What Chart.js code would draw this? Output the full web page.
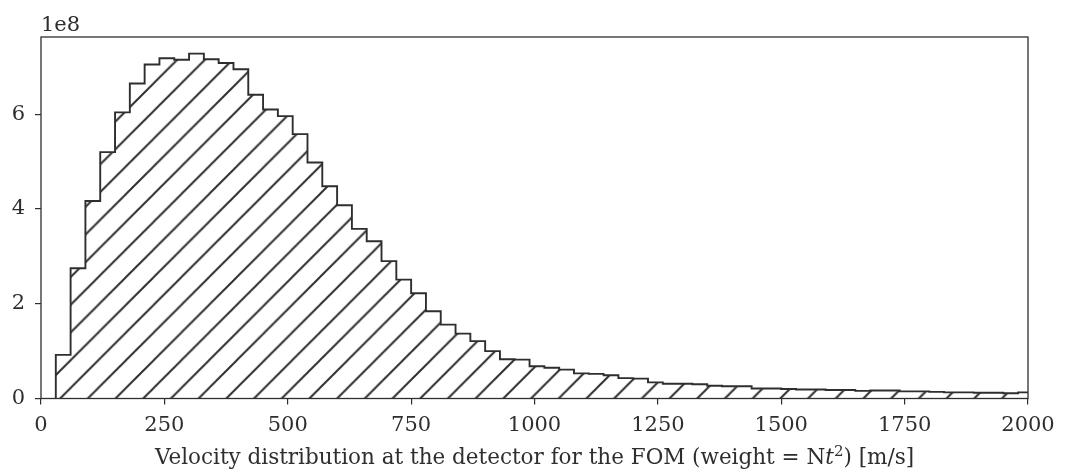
<!DOCTYPE html>
<html>
<head>
<meta charset="utf-8">
<script src="https://cdn.jsdelivr.net/npm/chart.js@4/dist/chart.umd.min.js"></script>
<style>
    html, body { margin: 0; padding: 0; background: #fff; }
    #wrap { width: 1067px; height: 474px; position: relative; }
</style>
</head>
<body>
<div id="wrap"><canvas id="hist"></canvas></div>
<script>
// bin edges in m/s (bins of 30 m/s)
const binEdges = [30, 60, 90, 120, 150, 180, 210, 240, 270, 300,
    330, 360, 390, 420, 450, 480, 510, 540, 570, 600,
    630, 660, 690, 720, 750, 780, 810, 840, 870, 900,
    930, 960, 990, 1020, 1050, 1080, 1110, 1140, 1170, 1200,
    1230, 1260, 1290, 1320, 1350, 1380, 1410, 1440, 1470, 1500,
    1530, 1560, 1590, 1620, 1650, 1680, 1710, 1740, 1770, 1800,
    1830, 1860, 1890, 1920, 1950, 1980, 2010];

// weighted counts per bin, in units of 1e8
const counts = [0.92, 2.75, 4.17, 5.20, 6.04, 6.65, 7.05, 7.18, 7.15, 7.28,
    7.16, 7.08, 6.95, 6.41, 6.10, 5.96, 5.58, 4.98, 4.48, 4.08,
    3.58, 3.32, 2.90, 2.51, 2.22, 1.84, 1.56, 1.37, 1.21, 1.00,
    0.83, 0.82, 0.68, 0.65, 0.61, 0.53, 0.52, 0.49, 0.43, 0.42,
    0.34, 0.31, 0.31, 0.30, 0.27, 0.26, 0.26, 0.21, 0.21, 0.20,
    0.19, 0.19, 0.18, 0.18, 0.16, 0.17, 0.17, 0.15, 0.15, 0.14,
    0.13, 0.13, 0.12, 0.12, 0.11, 0.13];

const xTicks = [0, 250, 500, 750, 1000, 1250, 1500, 1750, 2000];
const yTicks = [0, 2, 4, 6];
const yScaleFactor = 1e8;
const xLabelParts = [
    { text: 'Velocity distribution at the detector for the FOM (weight = N', style: '' },
    { text: 't', style: 'italic ' },
    { text: '2', style: '', sup: true },
    { text: ') [m/s]', style: '' }
];

const INK = '#2e2e2e';
const FONT = '"DejaVu Serif", serif';

// step outline: points at left bin edges, value holds until next edge
const points = [{ x: binEdges[0], y: 0 }];
counts.forEach((v, i) => points.push({ x: binEdges[i], y: v * yScaleFactor }));
points.push({ x: binEdges[binEdges.length - 1], y: counts[counts.length - 1] * yScaleFactor });

function makeHatch() {
    const s = 28;
    const c = document.createElement('canvas');
    c.width = s; c.height = s;
    const g = c.getContext('2d');
    g.strokeStyle = INK;
    g.lineWidth = 2;
    g.beginPath();
    g.moveTo(-2, s + 2); g.lineTo(s + 2, -2);
    g.moveTo(-2, 2); g.lineTo(2, -2);
    g.moveTo(s - 2, s + 2); g.lineTo(s + 2, s - 2);
    g.stroke();
    const p = g.createPattern(c, 'repeat');
    p.setTransform(new DOMMatrix().translate(15.3, 0).scale(27.7 / s));
    return p;
}

const frame = {
    id: 'frame',
    afterDraw(chart) {
        const { ctx, chartArea: a } = chart;
        ctx.save();
        ctx.strokeStyle = INK;
        ctx.lineWidth = 1.3;
        ctx.strokeRect(a.left, a.top, a.right - a.left, a.bottom - a.top);

        ctx.fillStyle = INK;
        ctx.textBaseline = 'alphabetic';
        ctx.textAlign = 'left';
        ctx.font = '21px ' + FONT;
        ctx.fillText('1e' + Math.log10(yScaleFactor), a.left, a.top - 6);

        // x axis label with italic t and superscript 2
        const size = 21.5;
        let total = 0;
        xLabelParts.forEach(p => {
            ctx.font = p.style + (p.sup ? size * 0.7 : size) + 'px ' + FONT;
            total += ctx.measureText(p.text).width;
        });
        let x = (a.left + a.right) / 2 - total / 2;
        const base = 464;
        xLabelParts.forEach(p => {
            ctx.font = p.style + (p.sup ? size * 0.7 : size) + 'px ' + FONT;
            ctx.fillText(p.text, x, p.sup ? base - 8 : base);
            x += ctx.measureText(p.text).width;
        });
        ctx.restore();
    }
};

new Chart(document.getElementById('hist'), {
    type: 'line',
    data: {
        datasets: [{
            data: points,
            stepped: 'before',
            borderColor: INK,
            borderWidth: 1.9,
            backgroundColor: makeHatch(),
            fill: 'origin',
            pointRadius: 0,
            tension: 0
        }]
    },
    options: {
        responsive: true,
        maintainAspectRatio: false,
        animation: false,
        layout: { padding: { top: 37, right: 39, left: 0, bottom: 0 } },
        plugins: {
            legend: { display: false },
            tooltip: { enabled: false }
        },
        scales: {
            x: {
                type: 'linear',
                min: xTicks[0],
                max: xTicks[xTicks.length - 1],
                afterBuildTicks: s => { s.ticks = xTicks.map(v => ({ value: v })); },
                afterFit: s => { s.height = 75.5; },
                ticks: {
                    color: INK, font: { family: FONT, size: 21 }, padding: 8, maxRotation: 0,
                    callback: v => String(v)
                },
                grid: { drawOnChartArea: false, drawTicks: true, tickLength: 6, color: INK, lineWidth: 1.2 },
                border: { display: false }
            },
            y: {
                min: 0,
                max: 7.63e8,
                afterBuildTicks: s => { s.ticks = yTicks.map(v => ({ value: v * yScaleFactor })); },
                afterFit: s => { s.width = 41; },
                ticks: {
                    color: INK, font: { family: FONT, size: 21 }, padding: 10,
                    callback: v => String(v / yScaleFactor)
                },
                grid: { drawOnChartArea: false, drawTicks: true, tickLength: 6, color: INK, lineWidth: 1.2 },
                border: { display: false }
            }
        }
    },
    plugins: [frame]
});
</script>
</body>
</html>
